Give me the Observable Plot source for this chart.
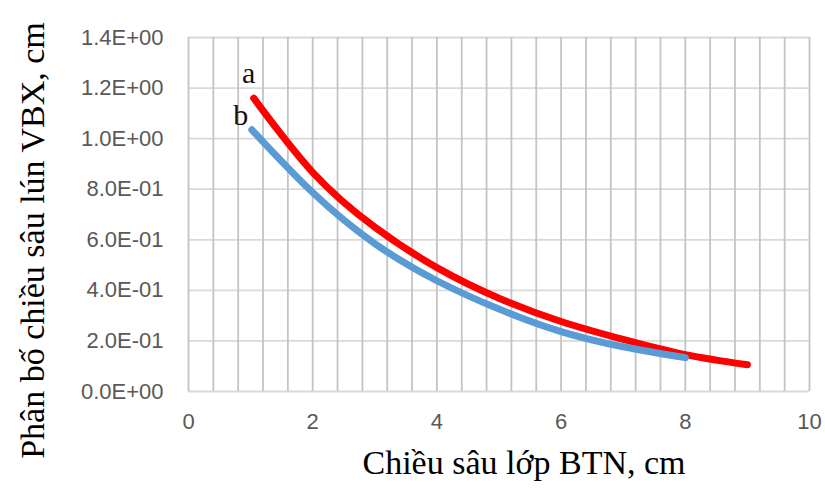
<!DOCTYPE html>
<html>
<head>
<meta charset="utf-8">
<script src="https://cdn.jsdelivr.net/npm/d3@7"></script>
<script src="https://cdn.jsdelivr.net/npm/@observablehq/plot@0.6"></script>
<style>
  html, body { margin: 0; padding: 0; background: #fff; }
  #chart { width: 825px; height: 488px; }
</style>
</head>
<body>
<div id="chart"></div>
<script>
// Series a (red)
const xA = [1.05, 2, 3, 4, 5, 6, 7, 8, 9];
const yA = [1.16, 0.867, 0.65, 0.49, 0.369, 0.277, 0.206, 0.146, 0.106];
// Series b (blue)
const xB = [1.02, 2, 3, 4, 5, 6, 7, 8];
const yB = [1.035, 0.787, 0.585, 0.438, 0.326, 0.237, 0.177, 0.134];
// Ticks
const xTicks = [0, 2, 4, 6, 8, 10];
const xGridTicks = d3.range(0, 10.0001, 0.4).map(v => +v.toFixed(1));
const yTicks = [0, 0.2, 0.4, 0.6, 0.8, 1.0, 1.2, 1.4];
const seriesLabels = ["a", "b"];
const xTitle = "Chiều sâu lớp BTN, cm";
const yTitle = "Phân bố chiều sâu lún VBX, cm";

const dataA = xA.map((x, i) => ({x, y: yA[i], s: "a"}));
const dataB = xB.map((x, i) => ({x, y: yB[i], s: "b"}));

function fmtE(d) {
  const [m, e] = d.toExponential(1).toUpperCase().split("E");
  const sign = e[0] === "-" ? "-" : "+";
  const digits = e.replace(/[+-]/, "").padStart(2, "0");
  return `${m}E${sign}${digits}`;
}

const serif = "'Liberation Serif', 'Times New Roman', serif";

const chart = Plot.plot({
  width: 825,
  height: 488,
  marginLeft: 188,
  marginRight: 16,
  marginTop: 37,
  marginBottom: 97,
  style: {fontFamily: "'Liberation Sans', Arial, sans-serif", background: "#fff"},
  x: {domain: [0, 10]},
  y: {domain: [0, 1.4]},
  marks: [
    Plot.ruleY(yTicks, {stroke: "#d9d9d9", strokeWidth: 1.8}),
    Plot.ruleX(xGridTicks, {stroke: "#c4c4c4", strokeWidth: 1.8}),
    Plot.axisX(xTicks, {tickSize: 0, tickPadding: 22, fontSize: 22, fill: "#595959", label: null}),
    Plot.axisY(yTicks, {tickSize: 0, tickPadding: 25, fontSize: 22, fill: "#595959", tickFormat: fmtE, label: null}),
    Plot.line(dataA, {x: "x", y: "y", stroke: "#ff0000", strokeWidth: 7, curve: "natural", strokeLinecap: "round"}),
    Plot.line(dataB, {x: "x", y: "y", stroke: "#5b9bd5", strokeWidth: 7, curve: "natural", strokeLinecap: "round"}),
    Plot.text([dataA[0]], {x: "x", y: "y", text: () => seriesLabels[0], dx: -5, dy: -25, fontSize: 30, fontFamily: serif, fill: "#111"}),
    Plot.text([dataB[0]], {x: "x", y: "y", text: () => seriesLabels[1], dx: -11, dy: -14, fontSize: 30, fontFamily: serif, fill: "#111"}),
    Plot.text([xTitle], {frameAnchor: "bottom", lineAnchor: "bottom", dx: 25, dy: 82, fontSize: 34, fontFamily: serif, fill: "#000"}),
    Plot.text([yTitle], {frameAnchor: "left", textAnchor: "middle", dx: -155, dy: 26, rotate: -90, fontSize: 34, fontFamily: serif, fill: "#000"})
  ]
});
document.getElementById("chart").appendChild(chart);
</script>
</body>
</html>
